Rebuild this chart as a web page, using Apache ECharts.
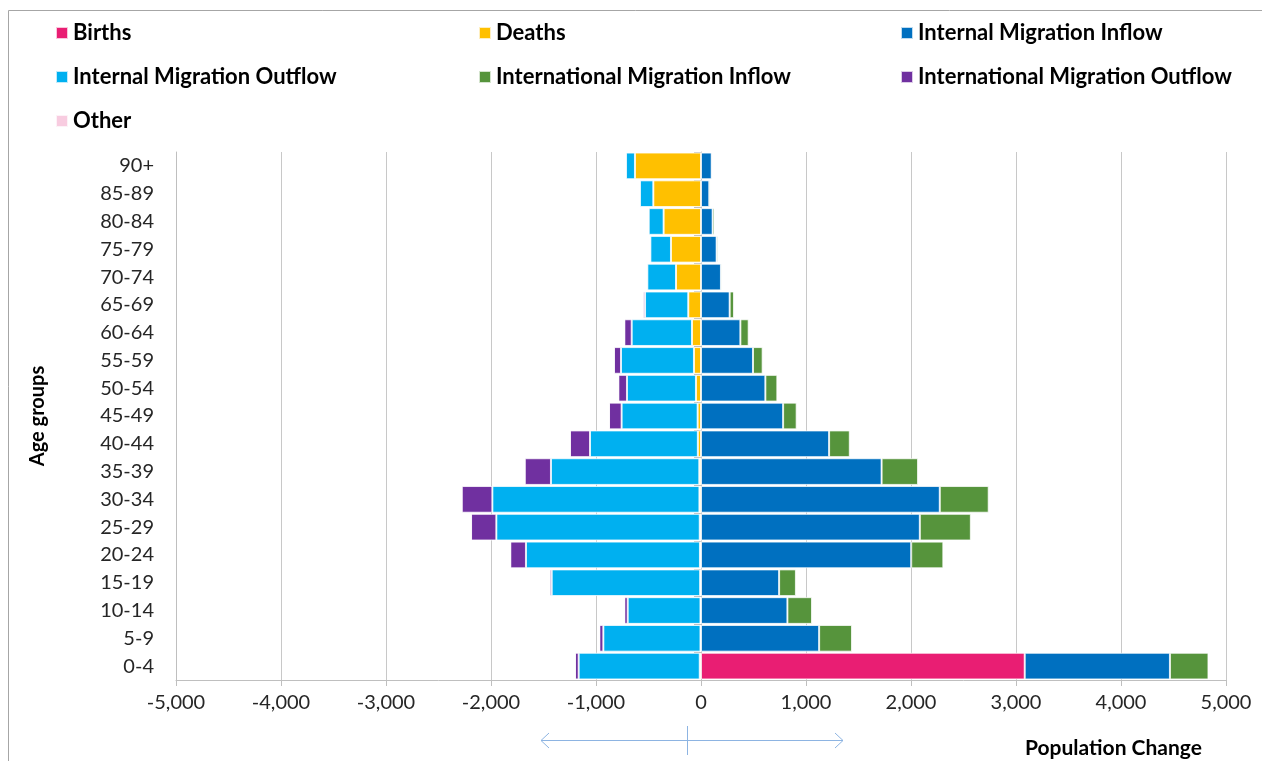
<!DOCTYPE html>
<html>
<head>
<meta charset="utf-8">
<script src="https://cdn.jsdelivr.net/npm/echarts@6/dist/echarts.min.js"></script>
<style>
  html, body { margin: 0; padding: 0; background: #fff; }
  #chart { width: 1262px; height: 761px; }
</style>
</head>
<body>
<div id="chart"></div>
<script>
// age bands, bottom to top
var ages = ['0-4','5-9','10-14','15-19','20-24','25-29','30-34','35-39','40-44','45-49',
            '50-54','55-59','60-64','65-69','70-74','75-79','80-84','85-89','90+'];

var births   = [3083,0,0,0,0,0,0,0,0,0,0,0,0,0,0,0,0,0,0];
var deaths   = [-12,-5,-5,-8,-10,-12,-15,-16,-30,-32,-48,-67,-86,-121,-238,-286,-356,-454,-629];
var intIn    = [1383,1125,823,744,2002,2084,2274,1720,1220,782,613,495,375,273,190,149,111,79,102];
var intOut   = [-1153,-925,-693,-1414,-1657,-1937,-1972,-1413,-1027,-724,-657,-695,-574,-412,-273,-196,-142,-127,-85];
var intlIn   = [367,313,234,160,306,486,466,347,197,129,114,92,79,41,13,16,19,13,10];
var intlOut  = [-35,-38,-32,-19,-149,-241,-292,-250,-191,-120,-82,-67,-70,-20,0,0,0,0,0];
var other    = [0,0,0,0,0,0,0,0,0,0,0,0,0,0,0,0,0,0,0];

var FONT = 'Lato, "Open Sans", sans-serif';

function bar(name, data, color) {
  return {
    name: name,
    type: 'bar',
    stack: 'total',
    data: data,
    barCategoryGap: '4%',
    itemStyle: { color: color, borderColor: 'rgba(255,255,255,0.75)', borderWidth: 1 }
  };
}

function legendCol(left, names) {
  return {
    left: left,
    top: 17,
    orient: 'vertical',
    itemWidth: 12,
    itemHeight: 12,
    itemGap: 22,
    icon: 'rect',
    data: names,
    textStyle: { fontFamily: FONT, fontSize: 22, fontWeight: 'bold', color: '#000' }
  };
}

var chart = echarts.init(document.getElementById('chart'));
chart.setOption({
  animation: false,
  textStyle: { fontFamily: FONT },
  legend: [
    legendCol(50, ['Births', 'Internal Migration Outflow', 'Other']),
    legendCol(473, ['Deaths', 'International Migration Inflow']),
    legendCol(895, ['Internal Migration Inflow', 'International Migration Outflow'])
  ],
  grid: { left: 176, right: 36, top: 152, bottom: 81 },
  xAxis: {
    type: 'value',
    min: -5000,
    max: 5000,
    interval: 1000,
    axisLine: { show: true, lineStyle: { color: '#bfbfbf' } },
    axisTick: { show: true, length: 6, lineStyle: { color: '#bfbfbf' } },
    splitLine: { lineStyle: { color: '#c8c8c8' } },
    axisLabel: {
      margin: 13,
      fontSize: 20,
      color: '#262626',
      formatter: function (v) { return v.toLocaleString('en-US'); }
    }
  },
  yAxis: [
    {
      type: 'category',
      data: ages,
      position: 'left',
      axisLine: { show: true, onZero: false, lineStyle: { color: '#bfbfbf' } },
      axisTick: { show: false },
      axisLabel: { margin: 22, fontSize: 20, color: '#262626' },
      name: 'Age groups',
      nameLocation: 'middle',
      nameRotate: 90,
      nameGap: 128,
      nameTextStyle: { fontSize: 20, fontWeight: 'bold', color: '#000' }
    },
    {
      type: 'category',
      data: ages,
      position: 'left',
      axisLine: { show: true, onZero: true, lineStyle: { color: '#bfbfbf' } },
      axisTick: { show: true, length: 7, lineStyle: { color: '#bfbfbf' } },
      axisLabel: { show: false }
    }
  ],
  series: [
    bar('Births', births, '#e91e73'),
    bar('Deaths', deaths, '#ffc000'),
    bar('Internal Migration Inflow', intIn, '#0070c0'),
    bar('Internal Migration Outflow', intOut, '#00b0f0'),
    bar('International Migration Inflow', intlIn, '#56943c'),
    bar('International Migration Outflow', intlOut, '#7030a0'),
    bar('Other', other, '#f8cce0')
  ],
  graphic: [
    {
      type: 'rect',
      shape: { x: 8.5, y: 10.5, width: 1300, height: 800 },
      style: { fill: 'none', stroke: '#a6a6a6', lineWidth: 1 },
      silent: true
    },
    {
      type: 'text',
      left: 1025,
      top: 738,
      style: { text: 'Population Change', fontFamily: FONT, fontSize: 21, fontWeight: 'bold', fill: '#000' }
    },
    {
      type: 'group',
      silent: true,
      children: [
        { type: 'line', shape: { x1: 541, y1: 740.5, x2: 843, y2: 740.5 }, style: { stroke: '#8db4e2', lineWidth: 1 } },
        { type: 'line', shape: { x1: 687.5, y1: 726, x2: 687.5, y2: 755 }, style: { stroke: '#8db4e2', lineWidth: 1 } },
        { type: 'polyline', shape: { points: [[549, 733], [541, 740.5], [549, 748]] }, style: { stroke: '#8db4e2', fill: 'none', lineWidth: 1 } },
        { type: 'polyline', shape: { points: [[835, 733], [843, 740.5], [835, 748]] }, style: { stroke: '#8db4e2', fill: 'none', lineWidth: 1 } }
      ]
    }
  ]
});
</script>
</body>
</html>
